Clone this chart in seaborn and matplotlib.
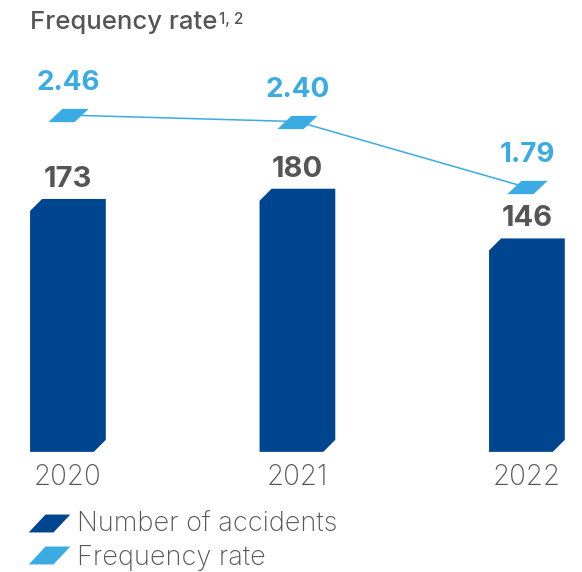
import numpy as np
import matplotlib
matplotlib.use('Agg')
import matplotlib.pyplot as plt
from matplotlib.path import Path
from matplotlib.patches import Polygon
from matplotlib.lines import Line2D
import seaborn as sns

years = ['2020', '2021', '2022']
accidents = [173, 180, 146]
freq_rate = [2.46, 2.40, 1.79]

dark_blue = '#00458f'
light_blue = '#3aabe3'
grey = '#555555'

sns.set_style('white')
plt.rcParams['font.family'] = ['Inter', 'DejaVu Sans']

# parallelogram markers (slanted like the original icons)
rate_marker = Path([(-1, -0.33), (0.3, -0.33), (1, 0.33), (-0.3, 0.33), (-1, -0.33)],
                   [Path.MOVETO, Path.LINETO, Path.LINETO, Path.LINETO, Path.CLOSEPOLY])
legend_marker = Path([(-1, -0.43), (0.19, -0.43), (1, 0.43), (-0.19, 0.43), (-1, -0.43)],
                     [Path.MOVETO, Path.LINETO, Path.LINETO, Path.LINETO, Path.CLOSEPOLY])

fig = plt.figure(figsize=(5.82, 5.72), dpi=100)
ax = fig.add_axes([0, 0.21, 1, 0.685])

sns.barplot(x=years, y=accidents, color=dark_blue, saturation=1, width=0.33, ax=ax)
ax.set_xlim(-0.296, 2.24)
ax.set_ylim(0, 268)

# chamfer top-left and bottom-right corners of each bar
fig.canvas.draw()
p0 = ax.transData.transform((0, 0))
p1 = ax.transData.transform((1, 1))
cx = 12 / (p1[0] - p0[0])
cy = 12 / (p1[1] - p0[1])
for p in list(ax.patches):
    x, y, w, h = p.get_x(), p.get_y(), p.get_width(), p.get_height()
    poly = Polygon([(x, y), (x + w - cx, y), (x + w, y + cy), (x + w, y + h),
                    (x + cx, y + h), (x, y + h - cy)],
                   closed=True, facecolor=dark_blue, edgecolor='none')
    ax.add_patch(poly)
    p.set_visible(False)

for i, v in enumerate(accidents):
    ax.annotate(f'{v}', (i, v), xytext=(0, 14), textcoords='offset points',
                ha='center', va='center', fontsize=21, fontweight='bold', color=grey)

ax2 = ax.twinx()
sns.lineplot(x=np.arange(len(years)), y=freq_rate, ax=ax2, color=light_blue,
             linewidth=1.1, marker=rate_marker, markersize=29, markeredgewidth=0,
             markerfacecolor=light_blue, legend=False)
ax2.set_ylim(-0.66, 2.97)
ax2.set_xlim(-0.296, 2.24)
for i, v in enumerate(freq_rate):
    ax2.annotate(f'{v:.2f}', (i, v), xytext=(0, 23), textcoords='offset points',
                 ha='center', va='center', fontsize=20, fontweight='bold', color=light_blue)

for a in (ax, ax2):
    sns.despine(ax=a, left=True, bottom=True, right=True, top=True)
    a.set_yticks([])
    a.set_ylabel('')
ax.tick_params(axis='x', length=0, pad=9, labelsize=20, labelcolor=grey)
for lbl in ax.get_xticklabels():
    lbl.set_fontweight('light')
ax2.tick_params(axis='x', length=0)

t = fig.text(30 / 582, 1 - 22 / 572, 'Frequency rate', fontsize=18.5, color=grey,
             fontweight='medium', ha='left', va='center')
ax.annotate('1, 2', xy=(1, 1), xycoords=t, xytext=(1, -1), textcoords='offset points',
            ha='left', va='top', fontsize=11, color=grey, fontweight='medium')

handles = [Line2D([], [], linestyle='none', marker=legend_marker, markersize=30,
                  markerfacecolor=c, markeredgewidth=0) for c in (dark_blue, light_blue)]
leg = fig.legend(handles, ['Number of accidents', 'Frequency rate'], loc='upper left',
                 bbox_to_anchor=(0.042, 1 - 512 / 572), frameon=False, fontsize=19.5,
                 labelcolor=grey, handlelength=1.8, handletextpad=0.15, labelspacing=0.25,
                 borderaxespad=0, borderpad=0)
for txt in leg.get_texts():
    txt.set_fontweight('light')

fig.savefig('out.png', dpi=100)
